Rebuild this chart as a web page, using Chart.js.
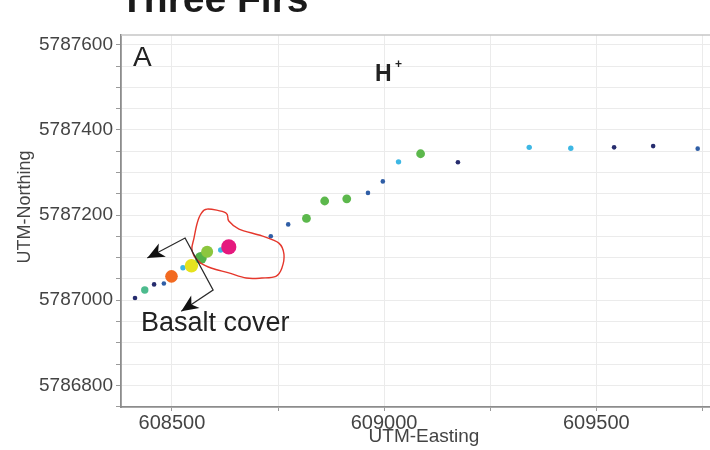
<!DOCTYPE html>
<html>
<head>
<meta charset="utf-8">
<script src="https://cdn.jsdelivr.net/npm/chart.js@4.4.1/dist/chart.umd.min.js"></script>
<style>
  html, body { margin: 0; padding: 0; background: #fff; overflow: hidden; }
  #wrap { width: 710px; height: 450px; position: relative; }
</style>
</head>
<body>
<div id="wrap"><canvas id="c" width="710" height="450"></canvas></div>
<script>
// Sampling points along the traverse (UTM coordinates, metres)
const easting = [608413, 608436, 608458, 608481, 608499, 608526, 608546, 608568, 608583, 608615,
                 608634, 608733, 608774, 608817, 608860, 608912, 608962, 608997, 609034, 609086,
                 609174, 609342, 609440, 609542, 609634, 609739];
const northing = [5787005, 5787024, 5787037, 5787039, 5787056, 5787076, 5787081, 5787099, 5787114, 5787118,
                  5787125, 5787150, 5787178, 5787192, 5787233, 5787238, 5787252, 5787279, 5787325, 5787344,
                  5787324, 5787359, 5787357, 5787359, 5787362, 5787356];
// H+ class of each sample (1 = lowest, 10 = highest)
const hClass = [1, 4, 1, 2, 9, 3, 8, 6, 7, 3,
                10, 2, 2, 5, 5, 5, 2, 2, 3, 5,
                1, 3, 3, 1, 1, 2];

// Marker style per H+ class
const classColor = {
  1: '#262c6e', 2: '#2f5ea6', 3: '#3db7e4', 4: '#4dbb8e', 5: '#5cb84c',
  6: '#53b249', 7: '#8cc63e', 8: '#e6e21e', 9: '#f26a21', 10: '#e5197e'
};
const classRadius = {
  1: 2.3, 2: 2.3, 3: 2.7, 4: 3.7, 5: 4.4, 6: 6, 7: 6, 8: 6.7, 9: 6.3, 10: 7.6
};

// Axis extents and tick spacing
const xRange = [608380, 609768];
const yRange = [5786749, 5787623];
const xGridStep = 250, xLabelStep = 500;
const yGridStep = 50, yLabelStep = 200;

// Outline of the anomaly zone (easting, northing)
const zoneE = [608583, 608627, 608634, 608658, 608712, 608752, 608764, 608759, 608745, 608712,
               608675, 608634, 608594, 608568, 608552, 608547, 608552, 608559, 608568];
const zoneN = [5787214, 5787205, 5787186, 5787167, 5787151, 5787134, 5787108, 5787075, 5787056, 5787052,
               5787052, 5787064, 5787075, 5787087, 5787104, 5787122, 5787146, 5787179, 5787202];

// Basalt cover bracket: arrow tip, corner, corner, arrow tip
const bracketE = [608442, 608531, 608597, 608522];
const bracketN = [5787099, 5787146, 5787024, 5786974];

const FONT = "'Liberation Sans', Arial, Helvetica, sans-serif";
const isMult = (v, s) => Math.abs(v / s - Math.round(v / s)) < 1e-6;

const points = easting.map((e, i) => ({ x: e, y: northing[i] }));

function drawArrowHead(ctx, fx, fy, tx, ty, len, half) {
  const a = Math.atan2(ty - fy, tx - fx);
  ctx.beginPath();
  ctx.moveTo(tx, ty);
  ctx.lineTo(tx - len * Math.cos(a) + half * Math.sin(a), ty - len * Math.sin(a) - half * Math.cos(a));
  ctx.lineTo(tx - len * 0.72 * Math.cos(a), ty - len * 0.72 * Math.sin(a));
  ctx.lineTo(tx - len * Math.cos(a) - half * Math.sin(a), ty - len * Math.sin(a) + half * Math.cos(a));
  ctx.closePath();
  ctx.fill();
}

const overlays = {
  id: 'overlays',
  afterDatasetsDraw(chart) {
    const { ctx, chartArea, scales: { x, y } } = chart;
    ctx.save();

    // anomaly zone: smooth closed curve through the outline vertices
    const pts = zoneE.map((e, i) => [x.getPixelForValue(e), y.getPixelForValue(zoneN[i])]);
    const n = pts.length;
    ctx.beginPath();
    ctx.moveTo(pts[0][0], pts[0][1]);
    for (let i = 0; i < n; i++) {
      const p0 = pts[(i - 1 + n) % n], p1 = pts[i], p2 = pts[(i + 1) % n], p3 = pts[(i + 2) % n];
      const c1x = p1[0] + (p2[0] - p0[0]) / 6, c1y = p1[1] + (p2[1] - p0[1]) / 6;
      const c2x = p2[0] - (p3[0] - p1[0]) / 6, c2y = p2[1] - (p3[1] - p1[1]) / 6;
      ctx.bezierCurveTo(c1x, c1y, c2x, c2y, p2[0], p2[1]);
    }
    ctx.closePath();
    ctx.strokeStyle = '#e5372c';
    ctx.lineWidth = 1.4;
    ctx.stroke();

    // basalt cover bracket with arrows
    const b = bracketE.map((e, i) => [x.getPixelForValue(e), y.getPixelForValue(bracketN[i])]);
    ctx.beginPath();
    ctx.moveTo(b[0][0], b[0][1]);
    for (let i = 1; i < b.length; i++) ctx.lineTo(b[i][0], b[i][1]);
    ctx.strokeStyle = '#2a2a2a';
    ctx.lineWidth = 1.3;
    ctx.stroke();
    ctx.fillStyle = '#111';
    drawArrowHead(ctx, b[1][0], b[1][1], b[0][0], b[0][1], 17, 7.5);
    drawArrowHead(ctx, b[2][0], b[2][1], b[3][0], b[3][1], 17, 7.5);

    // annotation texts
    ctx.fillStyle = '#222';
    ctx.textBaseline = 'alphabetic';
    ctx.textAlign = 'left';
    ctx.font = `27px ${FONT}`;
    ctx.fillText('Basalt cover', 141, 331);

    ctx.font = `28px ${FONT}`;
    ctx.fillText('A', chartArea.left + 12, 66);

    ctx.font = `bold 23px ${FONT}`;
    ctx.fillText('H', 375, 81);
    ctx.font = `bold 12px ${FONT}`;
    ctx.fillText('+', 395, 68);
    ctx.restore();
  },
  afterDraw(chart) {
    const { ctx, chartArea } = chart;
    ctx.save();
    // top frame line
    ctx.strokeStyle = '#c6c6c6';
    ctx.lineWidth = 1.5;
    ctx.beginPath();
    ctx.moveTo(chartArea.left, chartArea.top);
    ctx.lineTo(chartArea.right, chartArea.top);
    ctx.stroke();

    // title
    ctx.fillStyle = '#1a1a1a';
    ctx.font = `bold 39px ${FONT}`;
    ctx.textAlign = 'left';
    ctx.textBaseline = 'alphabetic';
    ctx.fillText('Three Firs', 120, 12);

    // axis titles
    ctx.fillStyle = '#444';
    ctx.font = `19px ${FONT}`;
    ctx.textAlign = 'center';
    ctx.textBaseline = 'middle';
    ctx.fillText('UTM-Easting', 424, 437);
    ctx.save();
    ctx.translate(25, 207);
    ctx.rotate(-Math.PI / 2);
    ctx.font = `18px ${FONT}`;
    ctx.fillText('UTM-Northing', 0, 0);
    ctx.restore();
    ctx.restore();
  }
};

new Chart(document.getElementById('c'), {
  type: 'scatter',
  data: {
    datasets: [{
      data: points,
      pointBackgroundColor: hClass.map(c => classColor[c]),
      pointBorderColor: hClass.map(c => classColor[c]),
      pointBorderWidth: 0,
      pointRadius: hClass.map(c => classRadius[c]),
      pointHoverRadius: hClass.map(c => classRadius[c])
    }]
  },
  options: {
    responsive: false,
    animation: false,
    devicePixelRatio: 1,
    layout: { autoPadding: false, padding: { top: 35, left: 0, right: 0, bottom: 0 } },
    plugins: { legend: { display: false }, title: { display: false }, tooltip: { enabled: false } },
    scales: {
      x: {
        type: 'linear',
        min: xRange[0],
        max: xRange[1],
        afterFit: s => { s.height = 43; s.paddingLeft = 0; s.paddingRight = 0; },
        border: { color: '#8c8c8c', width: 1.8 },
        grid: {
          color: c => (c.tick && isMult(c.tick.value, xGridStep)) ? '#ebebeb' : 'rgba(0,0,0,0)',
          tickColor: c => (c.tick && isMult(c.tick.value, xGridStep)) ? '#9a9a9a' : 'rgba(0,0,0,0)',
          tickLength: 4,
          lineWidth: 1
        },
        ticks: {
          stepSize: xGridStep,
          includeBounds: false,
          autoSkip: false,
          maxRotation: 0,
          padding: 0,
          color: '#444',
          font: { family: FONT, size: 20 },
          callback: v => isMult(v, xLabelStep) ? String(Math.round(v)) : ''
        }
      },
      y: {
        type: 'linear',
        min: yRange[0],
        max: yRange[1],
        afterFit: s => { s.width = 121; s.paddingTop = 0; s.paddingBottom = 0; },
        border: { color: '#8c8c8c', width: 1.8 },
        grid: {
          color: c => (c.tick && isMult(c.tick.value, yGridStep)) ? '#ebebeb' : 'rgba(0,0,0,0)',
          tickColor: c => (c.tick && isMult(c.tick.value, yGridStep)) ? '#9a9a9a' : 'rgba(0,0,0,0)',
          tickLength: 5,
          lineWidth: 1
        },
        ticks: {
          stepSize: yGridStep,
          includeBounds: false,
          autoSkip: false,
          padding: 3,
          color: '#444',
          font: { family: FONT, size: 19 },
          callback: v => isMult(v, yLabelStep) ? String(Math.round(v)) : ''
        }
      }
    }
  },
  plugins: [overlays]
});
</script>
</body>
</html>
